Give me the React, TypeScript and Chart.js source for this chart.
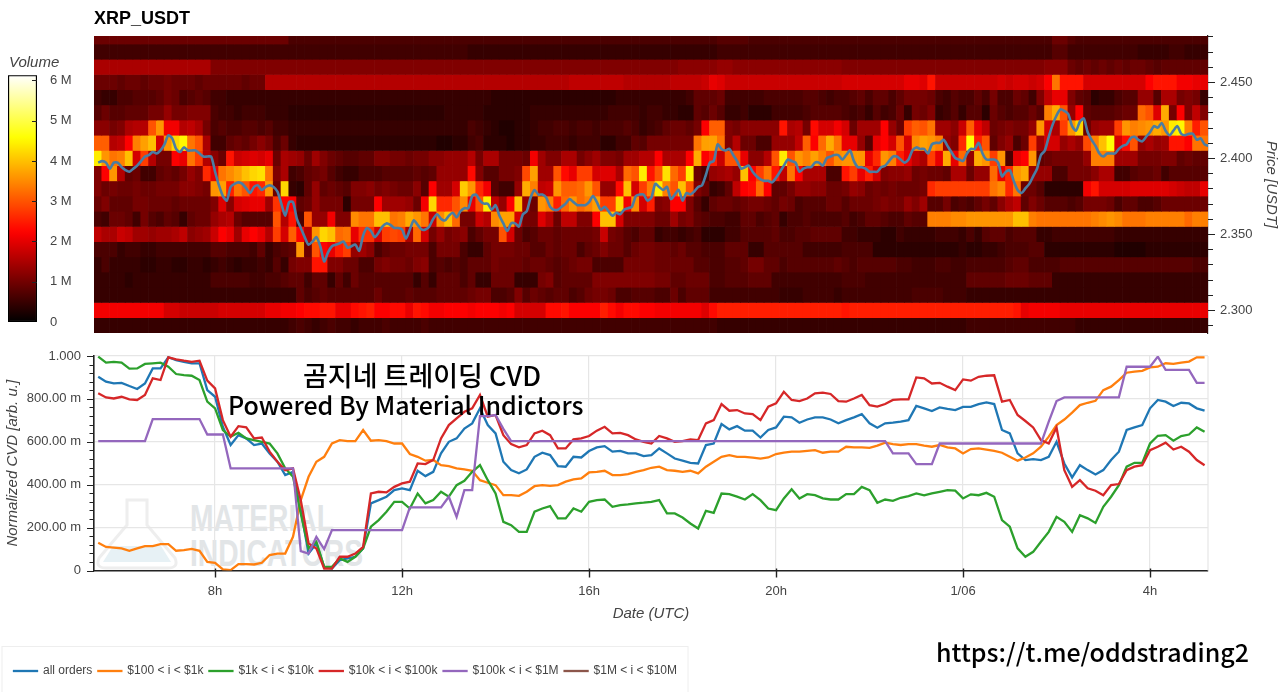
import React, { useEffect, useRef } from "react";
import { Chart, registerables } from "chart.js";

Chart.register(...registerables);

// ---------- time axis (hours since 00:00 of the first day) ----------
const axisStartHour = 5.41;
const axisEndHour = 29.24;
const heatStepHours = 1 / 6;
const priceStartHour = 5.5;
const priceStepHours = 1 / 12;
const cvdStartHour = 5.5;
const cvdStepHours = 1 / 6;
const timeTickValues = [8, 12, 16, 20, 24, 28];
const timeTickLabels = ["8h", "12h", "16h", "20h", "1/06", "4h"];

// ---------- heatmap: volume in units of 0.1 M, one array per price bin ----------
const r248 = [
  8,8,8,8,8,8,8,8,8,8,8,8,8,8,8,8,8,8,8,8,8,8,8,8,
  8,5,5,5,5,5,5,5,5,5,5,5,5,5,5,5,5,5,5,5,5,5,5,5,
  5,5,5,5,5,5,5,5,5,5,5,5,5,5,5,5,5,5,5,5,5,5,5,5,
  5,5,5,5,5,5,5,5,6,6,6,6,5,5,5,5,5,5,5,5,5,5,5,5,
  5,5,5,5,5,5,5,5,5,5,5,5,5,5,5,5,5,5,5,5,5,5,5,5,
  5,5,5,8,8,6,5,5,5,5,5,5,5,5,5,5,5,5,5,5,5,5,5,
];
const r247 = [
  4,4,4,4,4,4,4,4,4,4,4,4,4,4,4,4,4,4,4,4,4,4,4,4,
  4,4,4,4,4,4,4,4,4,4,4,4,4,4,4,4,4,4,4,4,4,4,4,4,
  3,3,3,3,3,3,3,3,3,3,3,3,3,3,3,3,3,3,3,3,3,3,3,3,
  3,3,3,3,3,3,3,3,4,4,4,4,4,4,4,4,4,4,4,4,4,4,4,4,
  4,4,4,4,4,4,4,4,4,4,4,4,4,4,4,4,4,4,4,4,4,4,4,4,
  4,4,4,6,6,4,4,4,4,4,4,4,4,4,3,3,3,3,4,4,3,3,3,
];
const r246 = [
  14,14,14,14,14,14,14,14,14,14,14,14,14,14,14,10,10,10,10,10,10,10,10,10,
  10,10,10,10,10,10,10,10,10,10,10,10,10,10,10,10,10,10,10,10,10,10,10,10,
  10,10,10,10,10,10,10,10,10,10,10,10,10,10,10,10,10,10,10,10,10,10,10,10,
  10,10,10,11,11,11,11,11,12,12,11,11,11,11,11,11,11,11,11,11,11,11,11,11,
  10,10,10,10,10,10,10,10,10,10,10,10,10,10,10,10,10,10,10,10,10,10,10,10,
  10,10,11,11,11,8,7,8,7,8,7,8,7,8,8,7,6,7,7,7,7,7,7,
];
const r245 = [
  8,8,8,7,8,8,7,8,8,9,8,8,8,7,8,8,8,8,8,7,8,8,15,15,
  15,15,15,15,15,15,15,15,15,15,15,15,15,15,15,15,15,15,15,15,15,15,15,15,
  15,15,15,15,15,15,15,15,15,15,15,15,15,16,16,16,16,16,16,16,15,15,15,15,
  15,15,16,16,16,16,17,20,19,17,17,17,17,17,17,17,17,17,17,17,17,17,17,17,
  18,18,18,18,18,18,18,18,20,20,19,24,17,17,17,17,17,17,17,17,18,17,18,18,
  17,18,22,33,24,24,24,18,18,18,18,18,18,18,18,22,24,24,24,21,21,20,20,
];
const r244 = [
  4,3,3,5,5,6,6,6,7,9,8,5,6,7,6,4,4,3,3,3,3,3,3,3,
  3,3,3,3,3,3,3,3,3,3,3,3,3,3,3,3,3,3,3,3,3,3,3,3,
  3,3,3,2,2,2,2,2,2,2,2,2,2,2,2,2,2,2,2,3,3,3,3,3,
  3,3,3,3,4,7,7,7,8,4,4,4,4,4,5,5,5,5,5,6,6,5,4,5,
  5,6,7,5,7,7,5,7,9,9,9,8,5,4,6,5,5,7,5,9,5,5,8,7,
  4,10,16,20,20,10,7,6,2,3,3,5,6,6,12,12,6,14,14,9,10,9,3,
];
const r243 = [
  6,8,6,6,7,7,7,9,9,12,9,9,10,10,10,5,4,4,3,4,4,4,3,3,
  3,2,2,2,2,2,2,2,2,2,2,2,2,2,2,2,2,2,2,2,2,3,3,3,
  3,3,2,2,2,2,2,2,3,3,3,3,3,3,3,3,3,3,4,4,4,4,3,4,
  4,3,3,2,2,7,6,8,6,3,3,4,2,2,2,4,4,4,4,5,6,6,6,6,
  5,4,5,3,6,4,5,8,3,9,8,10,3,4,6,3,6,6,2,8,6,5,6,6,
  8,6,34,38,30,12,22,7,6,6,6,7,8,8,32,30,19,38,9,22,10,16,10,
];
const r242 = [
  11,11,9,10,14,15,15,30,36,21,21,15,16,14,9,5,6,5,5,6,6,5,6,4,
  4,3,3,3,3,3,3,3,3,3,3,3,3,3,3,3,3,3,3,3,3,3,3,3,
  5,4,3,2,1,1,2,2,3,4,4,5,5,4,5,5,4,5,5,5,6,5,3,4,
  5,7,8,8,7,9,22,31,31,10,9,11,11,11,11,11,24,14,15,9,23,18,18,21,
  18,8,13,13,13,22,12,8,28,31,30,33,13,13,11,17,31,20,16,8,9,10,9,9,
  12,36,18,14,28,36,42,8,12,13,13,28,36,34,35,36,38,36,44,45,34,25,30,
];
const r241 = [
  31,31,15,16,22,34,37,40,18,36,42,45,33,30,14,4,4,7,8,7,9,11,9,5,
  8,3,2,2,2,2,2,2,2,2,2,2,2,2,2,2,2,2,2,2,1,1,2,2,
  4,5,2,2,2,1,2,2,3,3,4,4,4,3,4,4,4,2,2,4,4,7,6,9,
  9,9,9,9,9,33,37,37,33,10,15,8,8,5,5,12,12,12,16,31,22,32,38,33,
  20,20,12,6,20,22,18,30,18,35,37,36,34,12,10,26,46,25,30,7,10,12,5,8,
  28,13,18,18,12,14,12,29,34,40,46,18,23,30,12,14,12,13,24,24,22,33,33,
];
const r240 = [
  44,36,33,34,40,18,28,15,9,9,22,20,33,28,15,11,8,24,17,18,19,18,20,8,
  14,13,12,8,13,10,8,7,6,6,7,7,10,10,9,9,8,9,9,11,11,12,12,12,
  15,9,14,14,9,9,9,8,21,13,10,10,14,14,9,11,13,10,10,9,13,13,15,15,
  22,14,14,14,22,38,22,25,17,30,30,20,11,11,15,30,44,30,36,34,37,34,30,35,
  36,36,36,20,26,36,34,25,20,16,14,28,20,38,20,32,12,38,36,28,36,5,20,22,
  36,7,8,9,9,9,9,12,34,34,34,13,13,13,9,9,9,10,10,7,8,7,7,
];
const r239 = [
  10,22,36,15,7,8,4,4,7,8,7,9,12,10,26,20,33,35,37,40,42,43,33,10,
  14,4,5,7,8,9,6,4,3,3,5,5,5,6,6,6,6,7,6,7,12,12,12,12,
  23,10,6,6,9,9,10,29,37,13,13,30,23,20,28,28,18,19,19,14,32,30,44,24,
  30,43,32,28,44,8,5,12,13,14,12,40,22,28,33,24,16,33,22,14,14,14,5,5,
  24,28,20,25,18,10,11,11,12,8,9,8,8,7,14,14,8,12,12,32,20,26,36,38,
  12,12,12,5,5,9,9,9,11,14,14,4,4,6,7,7,8,4,6,6,6,6,6,
];
const r238 = [
  10,8,9,8,8,9,8,8,9,9,9,11,11,10,9,36,37,25,33,30,24,26,36,8,
  42,3,2,7,12,7,8,7,6,10,10,11,9,10,9,8,8,11,6,22,13,13,18,41,
  36,26,21,6,4,4,12,38,34,16,17,36,31,31,32,36,30,12,12,23,40,18,28,34,
  44,34,30,40,30,10,8,3,4,7,16,22,23,32,22,7,7,9,12,12,11,11,8,8,
  9,12,11,8,9,8,9,8,8,8,9,26,28,28,28,28,28,28,28,33,35,26,33,8,
  8,6,2,2,2,2,2,21,24,18,18,18,18,19,19,19,19,19,18,17,16,16,20,
];
const r237 = [
  8,10,7,7,7,9,9,8,8,8,7,8,8,8,8,10,19,11,18,19,20,20,13,27,
  22,22,7,8,12,9,9,9,2,9,9,9,22,13,13,13,12,8,21,42,26,26,30,35,
  20,30,44,16,12,22,40,12,8,36,34,25,32,36,32,34,37,28,28,42,21,35,18,25,
  10,11,22,22,10,6,3,7,8,8,7,8,9,9,8,7,9,8,5,6,6,6,8,8,
  6,8,8,8,9,10,9,9,12,10,13,6,6,9,5,6,5,7,9,7,11,14,16,7,
  10,8,6,6,6,5,6,9,9,9,8,5,7,7,5,5,6,8,8,8,8,8,8,
];
const r236 = [
  5,4,8,8,7,4,9,6,5,7,6,3,7,8,8,12,14,15,8,6,6,6,6,30,
  15,24,5,30,12,12,21,10,10,35,33,33,40,40,33,34,38,36,33,17,35,40,32,9,
  9,17,15,35,37,37,18,9,9,19,15,8,16,16,10,10,22,40,40,18,10,10,10,10,
  8,8,13,9,10,7,6,5,5,4,4,7,7,5,6,7,3,5,5,6,5,5,5,5,
  6,4,5,7,7,6,5,5,7,6,6,34,34,34,35,35,36,36,36,36,36,36,40,40,
  34,33,33,33,33,33,33,33,34,35,36,35,33,33,33,34,34,34,34,34,32,34,34,
];
const r235 = [
  16,14,14,17,16,13,13,12,13,13,14,16,11,12,13,17,22,20,13,20,22,20,15,28,
  18,31,22,15,36,42,40,32,33,20,27,27,18,28,29,28,14,32,18,9,12,9,10,11,
  5,7,9,9,30,18,8,5,6,8,8,7,8,8,8,8,9,17,9,8,6,5,7,7,
  3,4,4,3,4,5,2,2,2,4,4,6,6,6,6,7,5,5,6,6,7,7,7,7,
  4,4,3,3,3,2,2,4,3,3,3,3,4,4,4,3,5,3,6,7,7,5,6,6,
  6,3,3,4,4,4,4,4,4,4,4,3,3,3,3,3,3,3,3,3,3,3,3,
];
const r234 = [
  5,5,5,3,4,4,3,3,4,4,4,4,4,4,4,6,6,5,5,5,4,7,3,5,
  6,7,36,8,30,22,20,25,28,12,13,11,5,7,8,8,9,9,9,5,9,9,9,5,
  3,3,7,9,9,9,8,8,6,6,8,7,8,8,5,7,8,10,8,8,6,8,9,9,
  8,8,7,8,6,6,5,5,5,7,7,7,3,3,6,6,6,6,6,4,4,4,4,4,
  5,5,5,5,2,2,2,2,2,2,2,2,2,2,2,3,2,2,3,3,4,5,5,5,
  6,6,2,2,2,2,2,2,2,2,2,1,1,1,1,2,2,2,2,2,2,2,2,
];
const r233 = [
  3,5,3,3,3,3,2,2,3,3,2,2,3,3,2,3,4,3,2,3,3,4,3,6,
  3,9,10,10,24,24,10,10,8,8,5,5,9,10,9,9,8,10,11,5,6,5,6,5,
  7,7,7,9,8,8,8,7,8,8,7,6,7,8,9,9,5,5,5,5,9,9,9,9,
  8,8,8,8,8,6,6,5,5,6,6,7,9,9,7,7,5,6,6,6,6,6,6,7,
  6,5,6,6,6,6,6,5,5,4,4,4,5,5,4,4,5,5,5,5,5,6,7,7,
  5,5,5,5,6,6,6,6,6,6,6,6,6,6,6,6,6,6,6,6,6,5,5,
];
const r232 = [
  3,3,3,3,2,3,3,3,3,3,3,3,3,3,3,5,5,5,5,5,4,4,5,5,
  6,7,7,4,7,7,3,7,4,8,6,6,6,6,6,6,6,3,6,3,7,7,7,5,
  7,3,3,8,8,8,3,3,3,9,10,6,7,7,7,7,10,10,10,10,10,10,10,10,
  9,9,7,7,8,8,8,5,5,6,6,6,7,7,7,4,4,4,4,4,4,4,4,4,
  5,5,5,4,4,4,4,4,4,4,4,4,4,4,4,4,7,7,7,7,7,8,8,8,
  7,7,7,3,3,3,3,3,3,3,3,3,3,3,3,3,3,3,3,3,3,3,3,
];
const r231 = [
  3,3,3,3,3,3,3,3,3,3,3,3,3,3,3,3,3,3,3,3,3,3,3,3,
  3,3,7,5,6,7,6,6,6,6,6,6,8,6,6,6,7,6,6,6,7,7,7,7,
  8,9,9,5,5,6,10,6,8,7,6,7,7,5,6,8,9,9,8,5,5,6,6,6,
  5,5,8,5,7,7,7,4,4,4,4,4,4,4,4,4,3,3,3,4,4,4,4,3,
  4,4,4,4,4,4,4,4,4,5,5,5,5,4,4,4,3,3,3,3,3,3,3,3,
  3,3,3,3,3,3,3,3,3,3,3,3,3,3,3,3,3,3,3,3,3,3,3,
];
const r230 = [
  21,21,21,21,21,21,21,21,21,18,18,17,17,17,17,17,18,18,18,18,18,18,20,20,
  21,21,22,23,23,24,24,20,20,23,24,25,22,22,23,23,20,24,23,21,21,22,22,22,
  21,22,22,22,21,22,18,18,18,18,23,23,24,22,22,22,22,25,23,21,23,23,22,22,
  21,21,21,21,21,21,19,23,25,25,25,25,25,25,25,25,25,25,25,25,25,25,25,25,
  24,25,25,25,25,25,25,25,25,25,25,25,25,25,25,25,25,25,25,25,25,25,24,20,
  21,21,21,21,20,20,20,20,20,20,20,20,20,20,20,20,20,20,20,20,20,20,20,
];
const r229 = [
  3,3,3,3,3,3,3,3,3,3,3,3,3,3,3,3,3,3,3,3,3,3,3,3,
  3,4,5,4,3,4,5,4,4,3,4,4,4,5,4,4,4,4,5,4,4,4,4,4,
  4,4,4,4,4,4,4,4,4,4,4,4,4,4,4,4,4,4,4,4,4,4,4,4,
  4,4,4,4,4,4,4,4,3,3,3,3,3,3,3,3,3,3,3,3,3,3,3,3,
  3,3,3,3,3,3,3,3,3,3,3,3,3,3,3,3,4,4,4,4,4,4,4,4,
  4,4,4,4,4,4,3,3,3,3,3,3,3,3,3,3,3,3,3,3,3,3,3,
];
const heatRowPrices = [2.48,2.47,2.46,2.45,2.44,2.43,2.42,2.41,2.40,2.39,2.38,2.37,2.36,2.35,2.34,2.33,2.32,2.31,2.30,2.29];
const heatRows = [r248,r247,r246,r245,r244,r243,r242,r241,r240,r239,r238,r237,r236,r235,r234,r233,r232,r231,r230,r229];

// ---------- price line [USDT], one value every 5 minutes ----------
const priceSeries = [
  2.397,2.398,2.397,2.393,2.397,2.397,2.394,2.392,2.391,2.393,2.395,2.398,2.401,2.402,2.404,2.403,2.405,2.409,2.415,2.413,2.406,2.404,2.407,2.405,2.405,2.405,2.403,2.401,2.401,2.401,2.391,2.382,2.375,2.372,2.381,2.383,2.384,2.383,2.380,2.377,2.381,2.382,2.379,2.381,2.382,2.381,2.378,
  2.370,2.362,2.371,2.371,2.360,2.354,2.348,2.343,2.345,2.348,2.342,2.332,2.338,2.342,2.343,2.344,2.345,2.341,2.342,2.343,2.339,2.349,2.354,2.352,2.348,2.351,2.355,2.357,2.356,2.354,2.354,2.353,2.347,2.353,2.359,2.356,2.353,2.353,2.355,2.360,2.363,2.360,2.359,2.362,2.364,2.361,2.365,2.367,
  2.367,2.375,2.376,2.372,2.370,2.370,2.366,2.369,2.362,2.357,2.352,2.357,2.357,2.355,2.363,2.365,2.374,2.379,2.376,2.376,2.374,2.368,2.366,2.366,2.368,2.370,2.373,2.371,2.369,2.369,2.369,2.371,2.375,2.371,2.366,2.368,2.365,2.362,2.364,2.363,2.366,2.367,2.368,2.375,2.376,2.376,2.372,2.374,
  2.383,2.381,2.379,2.381,2.373,2.376,2.379,2.372,2.377,2.376,2.378,2.381,2.382,2.389,2.397,2.398,2.409,2.406,2.405,2.406,2.402,2.398,2.393,2.394,2.395,2.391,2.388,2.386,2.385,2.385,2.384,2.387,2.391,2.395,2.399,2.398,2.397,2.391,2.393,2.394,2.394,2.397,2.397,2.395,2.400,2.401,2.402,2.402,
  2.399,2.402,2.405,2.398,2.394,2.394,2.393,2.391,2.391,2.391,2.394,2.395,2.398,2.401,2.401,2.399,2.397,2.399,2.405,2.407,2.406,2.406,2.403,2.409,2.410,2.410,2.412,2.408,2.404,2.400,2.399,2.398,2.403,2.406,2.406,2.410,2.403,2.399,2.399,2.399,2.397,2.388,2.391,2.392,2.385,2.379,2.377,2.380,
  2.383,2.388,2.393,2.402,2.405,2.414,2.422,2.428,2.432,2.431,2.429,2.421,2.418,2.424,2.426,2.417,2.412,2.408,2.403,2.401,2.403,2.403,2.403,2.406,2.408,2.409,2.413,2.414,2.412,2.411,2.414,2.417,2.421,2.420,2.423,2.418,2.415,2.418,2.421,2.416,2.415,2.416,2.416,2.412,2.413,2.409,2.408,
];

// ---------- normalized CVD, thousandths, one value every 10 minutes ----------
const cvdAllOrders = [
  903,880,872,875,860,846,872,942,942,994,981,973,966,966,841,810,670,585,631,616,585,592,546,507,445,460,281,79,126,17,9,48,56,64,103,313,328,344,375,383,375,465,440,
  460,546,600,616,662,686,756,678,639,507,468,453,471,530,549,538,487,484,530,527,557,574,580,554,558,546,546,533,538,569,546,522,512,502,499,585,592,683,658,673,652,652,620,655,667,717,714,689,704,714,714,704,686,701,
  714,729,686,666,686,689,694,701,767,756,743,760,753,748,763,763,776,784,776,655,639,546,515,519,515,530,600,499,434,491,468,448,468,515,554,655,667,678,756,795,787,767,782,779,756,745,
];
const cvd100to1k = [
  129,110,107,103,92,103,114,114,123,123,92,95,101,92,40,36,5,2,30,30,28,36,72,79,79,157,328,437,507,530,592,608,603,603,655,605,608,603,592,592,543,530,512,
  515,491,487,476,471,465,421,409,398,351,351,348,367,393,398,395,398,414,425,429,457,460,465,445,445,449,460,468,479,484,468,465,460,465,453,484,507,530,538,530,530,526,522,527,543,550,554,554,558,561,549,554,554,577,
  574,574,572,582,596,589,585,589,589,582,577,585,574,569,546,566,569,564,558,549,530,512,527,546,577,624,678,704,736,771,782,791,841,857,888,922,927,931,947,950,966,963,969,974,994,994,
];
const cvd1kto10k = [
  997,969,973,969,941,942,963,966,969,950,916,911,908,888,787,756,655,624,642,616,608,600,592,546,476,437,266,103,134,17,17,56,40,64,103,204,235,274,320,320,289,359,313,
  328,367,344,398,418,460,491,421,359,227,211,180,180,274,289,300,243,243,289,274,320,328,331,297,305,308,313,316,320,328,266,266,247,219,196,278,269,359,356,344,331,356,328,289,281,336,379,336,356,351,336,331,331,356,
  356,390,375,316,331,325,339,347,359,350,359,367,375,372,336,355,351,362,344,235,204,103,64,87,134,180,250,227,180,258,243,222,297,344,398,484,502,502,592,628,631,605,627,634,667,647,
];
const cvd10kto100k = [
  826,807,802,810,798,795,818,896,888,994,984,978,973,978,885,849,701,624,673,667,616,620,554,507,468,476,328,126,103,9,9,64,64,79,110,359,367,364,390,406,414,499,496,
  515,616,678,709,740,756,818,717,725,631,589,574,585,639,652,631,569,569,611,616,627,652,670,639,642,631,611,600,592,627,616,600,603,611,608,686,701,776,745,748,732,729,701,764,779,833,795,790,802,826,829,823,790,787,
  802,818,771,764,776,795,798,798,900,896,872,875,857,841,891,885,903,908,910,787,795,725,697,667,608,592,667,468,390,421,383,372,351,398,403,468,484,491,561,577,596,564,577,554,515,491,
];
const cvd100kto1M = [
  603,603,603,603,603,603,603,706,706,706,706,706,706,706,634,634,634,476,476,476,476,476,476,476,476,476,90,79,157,100,188,188,188,188,188,188,188,188,188,188,294,294,294,
  294,294,344,250,375,375,720,720,725,660,603,603,603,603,603,603,603,603,603,603,603,603,603,603,603,603,603,603,603,603,603,603,603,603,603,603,603,603,603,603,603,603,603,603,603,603,603,603,603,603,603,603,603,603,
  603,603,603,603,603,546,546,546,496,496,496,592,592,592,592,592,592,592,592,592,592,592,592,592,592,694,790,807,807,807,807,807,807,807,807,950,950,950,950,997,935,935,935,935,875,875,
];
const cvd1Mto10M: number[] = [];

const cvdNames = ["all orders", "$100 < i < $1k", "$1k < i < $10k", "$10k < i < $100k", "$100k < i < $1M", "$1M < i < $10M"];
const cvdColors = ["#1f77b4", "#ff7f0e", "#2ca02c", "#d62728", "#9467bd", "#8c564b"];
const cvdSeries = [cvdAllOrders, cvd100to1k, cvd1kto10k, cvd10kto100k, cvd100kto1M, cvd1Mto10M];

const cvdTickValues = [0, 0.2, 0.4, 0.6, 0.8, 1];
const cvdTickLabels = ["0", "200.00 m", "400.00 m", "600.00 m", "800.00 m", "1.000"];
const cvdMinorTicks = [0.04,0.08,0.12,0.16,0.24,0.28,0.32,0.36,0.44,0.48,0.52,0.56,0.64,0.68,0.72,0.76,0.84,0.88,0.92,0.96];
const priceMajorTicks = [2.3, 2.35, 2.4, 2.45];
const priceMinorTicks = [2.29,2.31,2.32,2.33,2.34,2.36,2.37,2.38,2.39,2.41,2.42,2.43,2.44,2.46,2.47,2.48];
const volumeTicks = [0, 1, 2, 3, 4, 5, 6];
const volumeMax = 6.13;

const FONT = "'Liberation Sans', Arial, sans-serif";
const GREY = "#444444";

// 'hot' colour map
function hot(v: number) {
  const t = Math.max(0, Math.min(1, v / volumeMax));
  const r = Math.min(1, t / 0.365);
  const g = Math.max(0, Math.min(1, (t - 0.365) / 0.381));
  const b = Math.max(0, Math.min(1, (t - 0.746) / 0.254));
  return `rgb(${Math.round(r * 255)},${Math.round(g * 255)},${Math.round(b * 255)})`;
}

// my dark-cell readings ran low against the colour bar: lift them, leave the bright cells alone
function readingToVolume(tenths: number) {
  const lift = tenths < 25 ? 2 * (1 - tenths / 25) : 0;
  return (tenths + lift) / 10;
}

// Chart.js adds half a label plus ticks.padding above and below a vertical scale: drop it
function noAxisEndPadding(s: any) {
  s.paddingTop = 0;
  s.paddingBottom = 0;
}

// tick marks through the scale
function marks(id: string, axis: string, values: number[], from: number, to: number, width = 1, color = "#222") {
  return {
    id,
    afterDatasetsDraw(chart: any) {
      const s = chart.scales[axis];
      const { ctx, chartArea: a } = chart;
      ctx.save();
      ctx.strokeStyle = color;
      ctx.lineWidth = width;
      ctx.beginPath();
      for (const v of values) {
        const p = Math.round(s.getPixelForValue(v)) + 0.5;
        if (axis === "x") {
          ctx.moveTo(p, a.bottom + from);
          ctx.lineTo(p, a.bottom + to);
        } else if (s.position === "left") {
          ctx.moveTo(a.left + from, p);
          ctx.lineTo(a.left + to, p);
        } else {
          ctx.moveTo(a.right + from, p);
          ctx.lineTo(a.right + to, p);
        }
      }
      ctx.stroke();
      ctx.restore();
    },
  };
}

export default function App() {
  const topRef = useRef<HTMLCanvasElement>(null);
  const barRef = useRef<HTMLCanvasElement>(null);
  const botRef = useRef<HTMLCanvasElement>(null);

  useEffect(() => {
    const heatDatasets: any[] = heatRows.map((row, r) => ({
      type: "bar",
      order: 2,
      grouped: false,
      barPercentage: 1,
      categoryPercentage: 1,
      borderWidth: 0,
      data: row.map((_, c) => ({
        x: axisStartHour + (c + 0.5) * heatStepHours,
        y: [heatRowPrices[r] - 0.005, heatRowPrices[r] + 0.005],
      })),
      backgroundColor: row.map((v) => hot(readingToVolume(v))),
    }));
    const priceDataset: any = {
      type: "line",
      order: 1,
      data: priceSeries.map((y, i) => ({ x: priceStartHour + i * priceStepHours, y })),
      borderColor: "#4a7da3",
      borderWidth: 2.6,
      pointRadius: 0,
      tension: 0.25,
    };
    const top = new Chart(topRef.current!, {
      type: "bar",
      data: { datasets: [...heatDatasets, priceDataset] },
      options: {
        responsive: false,
        animation: false,
        events: [],
        layout: { padding: { left: 94, bottom: 12 } },
        plugins: {
          legend: { display: false },
          tooltip: { enabled: false },
          title: {
            display: true,
            text: "XRP_USDT",
            align: "start",
            fullSize: false,
            color: "#000",
            font: { family: FONT, size: 18, weight: "bold", lineHeight: 1.2 },
            padding: { top: 8, bottom: 6.4 },
          },
        },
        scales: {
          x: { type: "linear", display: false, min: axisStartHour, max: axisEndHour, offset: false, grid: { offset: false } },
          y: {
            type: "linear",
            position: "right",
            min: 2.2849,
            max: 2.4803,
            grid: { display: false, drawTicks: false },
            border: { display: true, color: "#222", width: 1.2 },
            afterFit: (s: any) => { s.width = 72; noAxisEndPadding(s); },
            afterBuildTicks: (s: any) => { s.ticks = priceMajorTicks.map((value) => ({ value })); },
            ticks: {
              autoSkip: false,
              padding: 12,
              color: GREY,
              font: { family: FONT, size: 13 },
              callback: (v: any) => Number(v).toFixed(3),
            },
            title: { display: true, text: "Price [USDT]", color: GREY, padding: { top: 0, bottom: 2 }, font: { family: FONT, size: 15, style: "italic", weight: "normal" } },
          },
        },
      } as any,
      plugins: [
        marks("pMaj", "y", priceMajorTicks, 0, 7, 1.2),
        marks("pMin", "y", priceMinorTicks, 0, 5, 1.2),
      ],
    } as any);

    const bar = new Chart(barRef.current!, {
      type: "bar",
      data: {
        labels: ["Volume"],
        datasets: [
          {
            data: [[0, volumeMax]],
            barPercentage: 1,
            categoryPercentage: 1,
            borderColor: "#000",
            borderWidth: 1.5,
            borderSkipped: false,
            backgroundColor: (c: any) => {
              const a = c.chart.chartArea;
              if (!a) return "#000";
              const g = c.chart.ctx.createLinearGradient(0, a.bottom, 0, a.top);
              for (let i = 0; i <= 40; i++) g.addColorStop(i / 40, hot((i / 40) * volumeMax));
              return g;
            },
          } as any,
        ],
      },
      options: {
        responsive: false,
        animation: false,
        events: [],
        layout: { padding: { left: 8, bottom: 13 } },
        plugins: {
          legend: { display: false },
          tooltip: { enabled: false },
          title: {
            display: true,
            text: "Volume",
            align: "start",
            fullSize: false,
            color: GREY,
            font: { family: FONT, size: 15, style: "italic", weight: "normal", lineHeight: 1.2 },
            padding: { top: 4, bottom: 3.2 },
          },
        },
        scales: {
          x: { display: false },
          y: {
            position: "right",
            min: 0,
            max: volumeMax,
            grid: { display: false, drawTicks: false },
            border: { display: false },
            afterFit: (s: any) => { s.width = 53; noAxisEndPadding(s); },
            afterBuildTicks: (s: any) => { s.ticks = volumeTicks.map((value) => ({ value })); },
            ticks: {
              padding: 13,
              color: GREY,
              font: { family: FONT, size: 13 },
              callback: (v: any) => (v === 0 ? "0" : `${v} M`),
            },
          },
        },
      } as any,
      plugins: [
        marks("vMaj", "y", volumeTicks.slice(1), -5, 0, 1.2),
        {
          id: "placeVolumeTitle",
          afterLayout(chart: any) {
            chart.titleBlock.left = 9;
            chart.titleBlock.right = 90;
          },
        },
      ],
    } as any);

    const bot = new Chart(botRef.current!, {
      type: "line",
      data: {
        datasets: cvdSeries.map((series, i) => ({
          label: cvdNames[i],
          order: cvdSeries.length - i,
          data: series.map((v, k) => ({ x: cvdStartHour + k * cvdStepHours, y: v / 1000 })),
          borderColor: cvdColors[i],
          backgroundColor: cvdColors[i],
          borderWidth: 2.3,
          pointRadius: 0,
          tension: 0,
        })),
      },
      options: {
        responsive: false,
        animation: false,
        events: [],
        layout: { padding: { top: 16, right: 72 } },
        plugins: {
          tooltip: { enabled: false },
          legend: {
            display: true,
            position: "bottom",
            align: "start",
            labels: {
              sort: (a: any, b: any) => a.datasetIndex - b.datasetIndex,
              boxWidth: 23,
              boxHeight: 0.01,
              padding: 6,
              color: GREY,
              font: { family: FONT, size: 12 },
            },
          },
        },
        scales: {
          x: {
            type: "linear",
            min: axisStartHour,
            max: axisEndHour,
            grid: { color: "#e6e6e6", lineWidth: 1.2, drawTicks: false },
            border: { color: "#222", width: 1.6 },
            afterFit: (s: any) => { s.height = 93.5; },
            afterBuildTicks: (s: any) => { s.ticks = timeTickValues.map((value) => ({ value })); },
            ticks: {
              autoSkip: false,
              maxRotation: 0,
              padding: 13.5,
              color: GREY,
              font: { family: FONT, size: 13 },
              callback: (v: any) => timeTickLabels[timeTickValues.indexOf(v)],
            },
            title: { display: true, text: "Date (UTC)", color: GREY, padding: { top: 0, bottom: 41 }, font: { family: FONT, size: 15, style: "italic", weight: "normal" } },
          },
          y: {
            type: "linear",
            position: "left",
            min: 0,
            max: 1,
            grid: { color: "#e6e6e6", lineWidth: 1.2, drawTicks: false },
            border: { color: "#222", width: 1.6 },
            afterFit: (s: any) => { s.width = 94; noAxisEndPadding(s); },
            afterBuildTicks: (s: any) => { s.ticks = cvdTickValues.map((value) => ({ value })); },
            ticks: {
              autoSkip: false,
              padding: 13,
              color: GREY,
              font: { family: FONT, size: 13 },
              callback: (v: any) => cvdTickLabels[cvdTickValues.indexOf(v)],
            },
            title: { display: true, text: "Normalized CVD [arb. u.]", color: GREY, padding: { top: 4, bottom: 0 }, font: { family: FONT, size: 15, style: "italic", weight: "normal" } },
          },
        },
      } as any,
      plugins: [
        marks("cMaj", "y", cvdTickValues, -7, 0, 1.2),
        marks("cMin", "y", cvdMinorTicks, -4.5, 0, 1.2),
        marks("tMaj", "x", timeTickValues, -2, 7, 1.4),
        {
          id: "placeLegend",
          afterLayout(chart: any) {
            chart.legend.left = 8;
            chart.legend.top = 319;
          },
          beforeDatasetsDraw(chart: any) {
            const { ctx, chartArea: a } = chart;
            ctx.save();
            ctx.strokeStyle = "#e6e6e6";
            ctx.lineWidth = 1.2;
            ctx.beginPath();
            ctx.moveTo(a.right, a.top);
            ctx.lineTo(a.right, a.bottom);
            ctx.stroke();
            ctx.restore();
          },
        },
      ],
    } as any);

    return () => {
      top.destroy();
      bar.destroy();
      bot.destroy();
    };
  }, []);

  const abs: React.CSSProperties = { position: "absolute", whiteSpace: "nowrap", color: "#000", fontFamily: "'Noto Sans CJK KR', 'Noto Sans', sans-serif", lineHeight: 1, fontWeight: 500 };

  return (
    <div style={{ position: "absolute", left: 0, top: 0, width: 1280, height: 692, overflow: "hidden", background: "#fff" }}>
      <svg width={1280} height={692} style={{ position: "absolute", left: 0, top: 0 }}>
        <path d="M127 500 H147 V525 L175 558 Q179 568 168 568 H106 Q95 568 99 558 L127 525 Z" fill="none" stroke="#eeeeee" strokeWidth={3} />
        <path d="M113 546 H161 L171 562 H103 Z" fill="#e7f1f5" />
        <text x={190} y={531} fontFamily={FONT} fontWeight="bold" fontSize={36} fill="#e2e5e7" textLength={144} lengthAdjust="spacingAndGlyphs">MATERIAL</text>
        <text x={190} y={566} fontFamily={FONT} fontWeight="bold" fontSize={36} fill="#e2e5e7" textLength={173} lengthAdjust="spacingAndGlyphs">INDICATORS</text>
        <rect x={2} y={646.5} width={686} height={50} fill="none" stroke="#eeeeee" />
      </svg>
      <canvas ref={topRef} width={1280} height={345} style={{ position: "absolute", left: 0, top: 0 }} />
      <canvas ref={barRef} width={90} height={285} style={{ position: "absolute", left: 0, top: 50 }} />
      <canvas ref={botRef} width={1280} height={352} style={{ position: "absolute", left: 0, top: 340 }} />
      <div style={{ ...abs, left: 303, top: 361, fontSize: 27 }}>곰지네 트레이딩 CVD</div>
      <div style={{ ...abs, left: 228, top: 392, fontSize: 25 }}>Powered By Material Indictors</div>
      <div style={{ ...abs, left: 936, top: 639, fontSize: 25 }}>https://t.me/oddstrading2</div>
    </div>
  );
}
